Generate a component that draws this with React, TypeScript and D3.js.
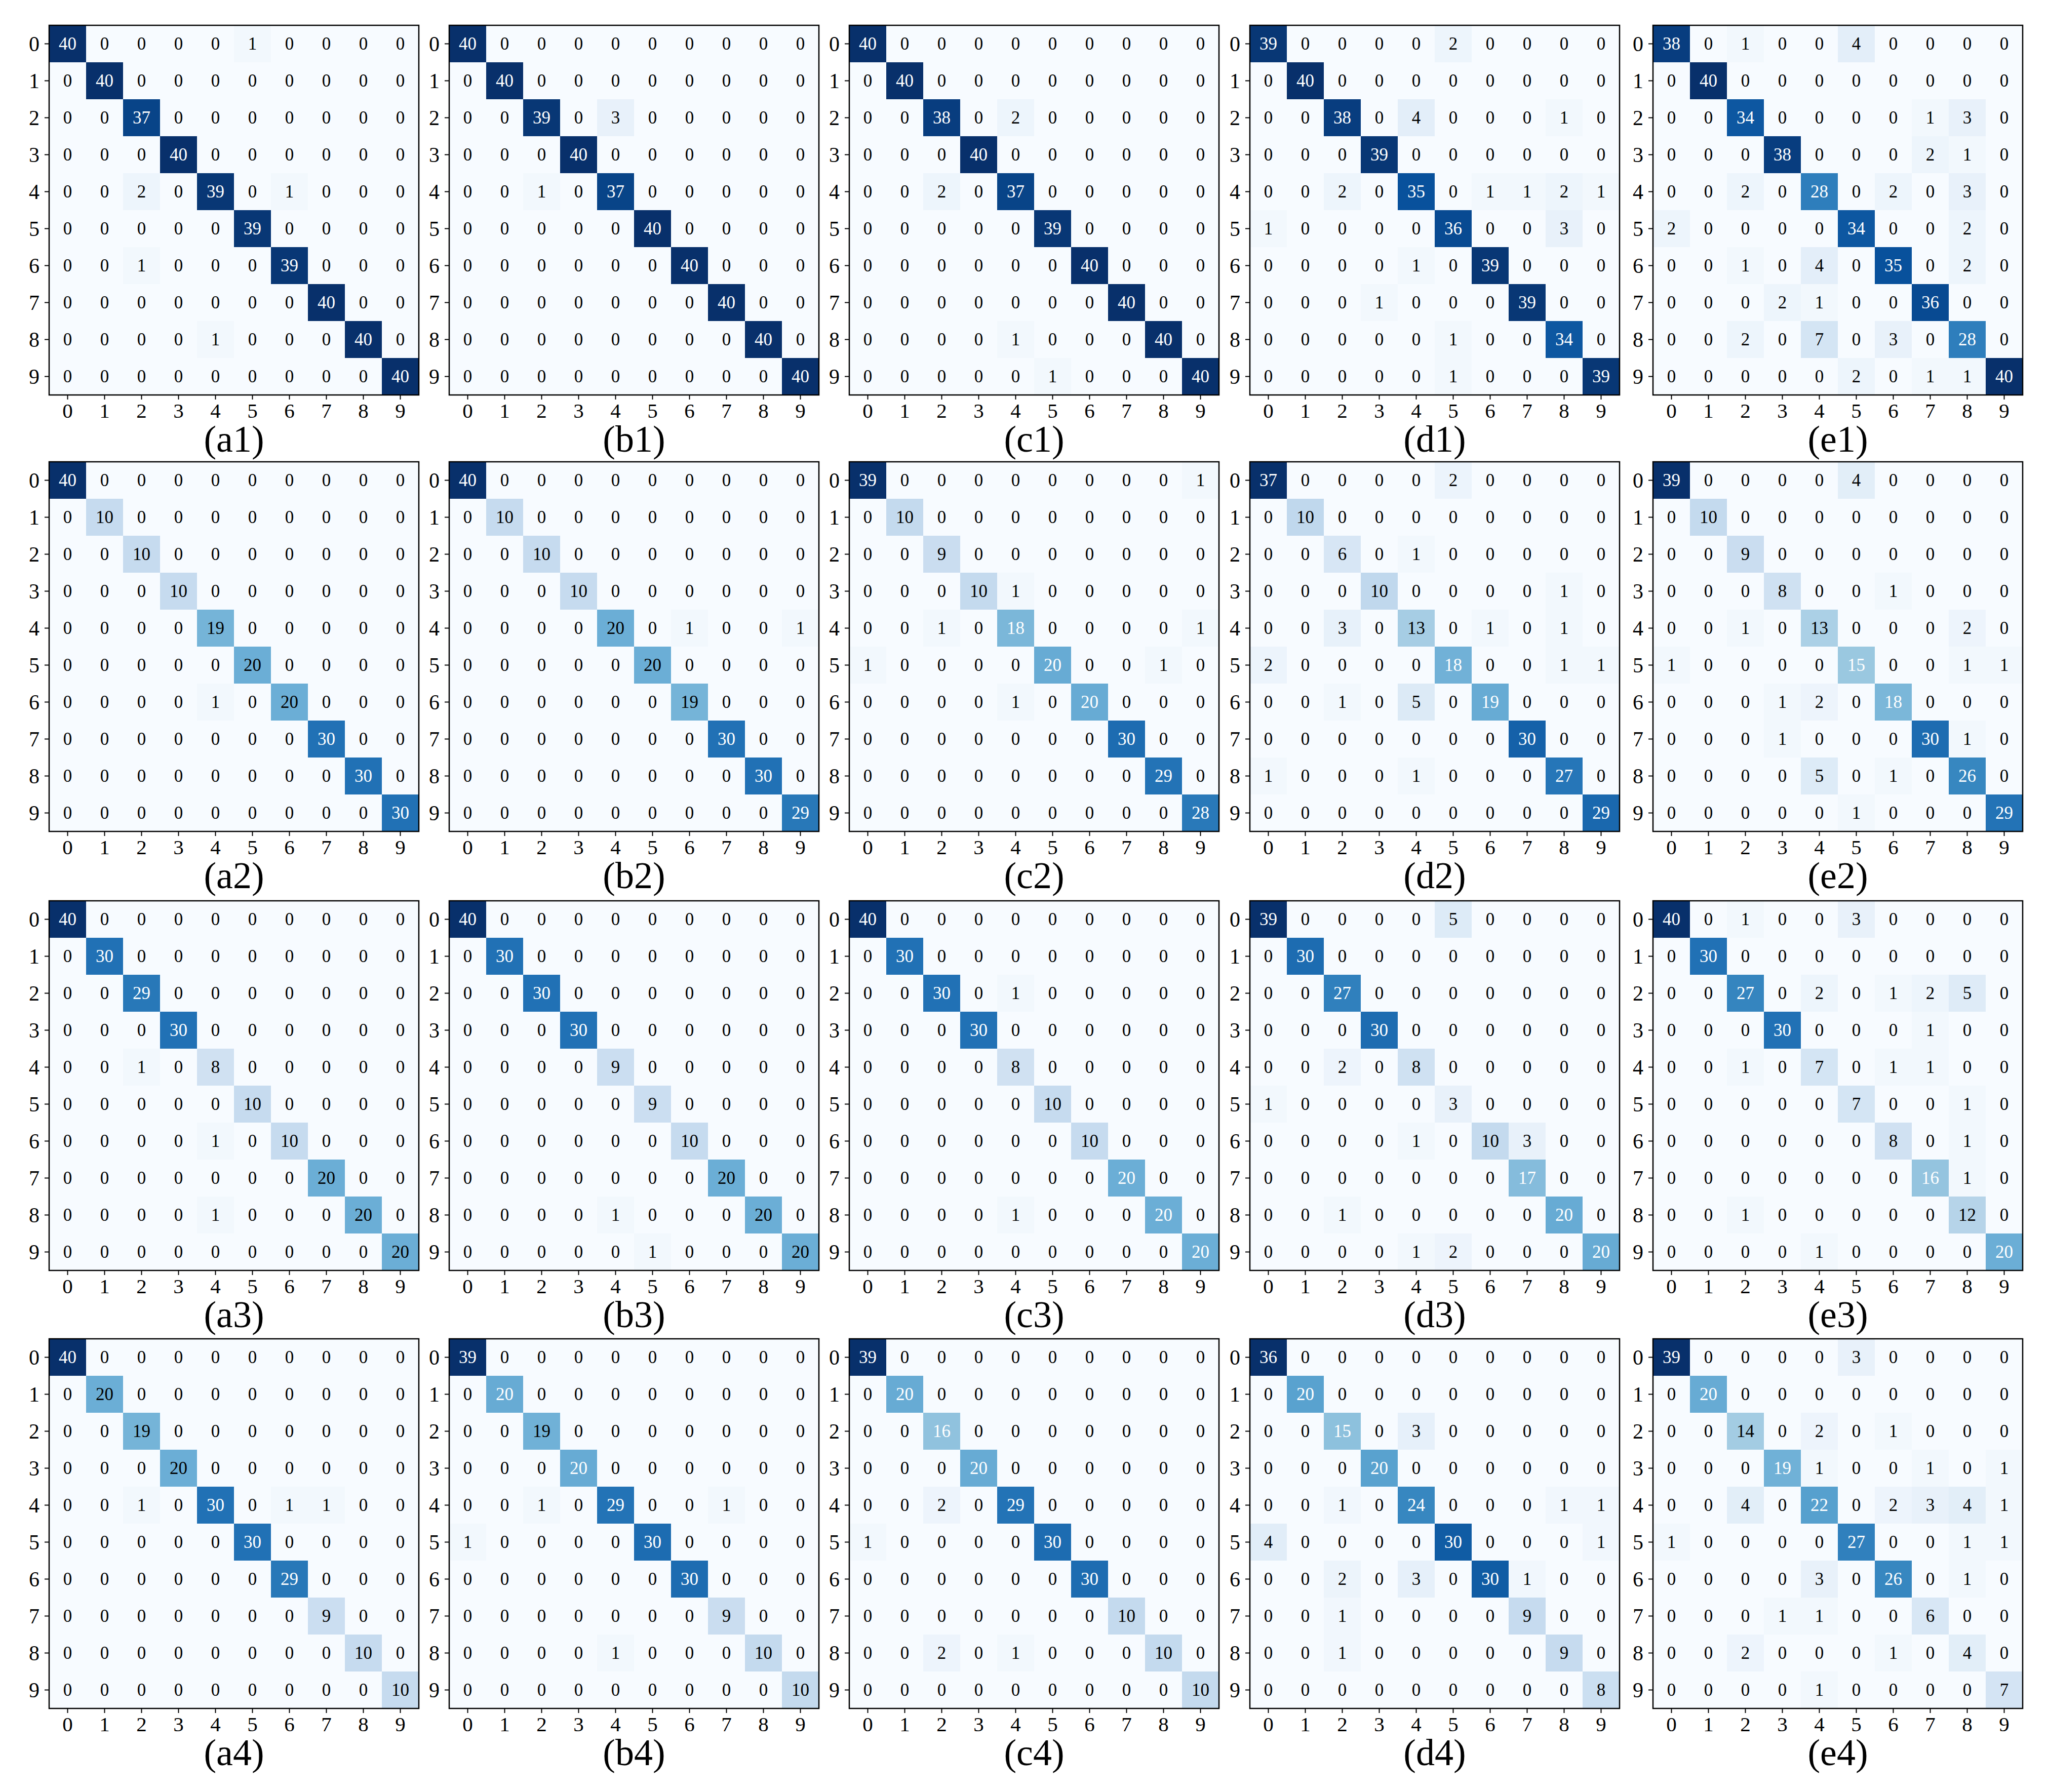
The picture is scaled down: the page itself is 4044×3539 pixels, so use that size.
import * as d3 from 'd3';

// confusion matrices, rows = true class, cols = predicted class
const a1 = [
  [40, 0, 0, 0, 0, 1, 0, 0, 0, 0],
  [0, 40, 0, 0, 0, 0, 0, 0, 0, 0],
  [0, 0, 37, 0, 0, 0, 0, 0, 0, 0],
  [0, 0, 0, 40, 0, 0, 0, 0, 0, 0],
  [0, 0, 2, 0, 39, 0, 1, 0, 0, 0],
  [0, 0, 0, 0, 0, 39, 0, 0, 0, 0],
  [0, 0, 1, 0, 0, 0, 39, 0, 0, 0],
  [0, 0, 0, 0, 0, 0, 0, 40, 0, 0],
  [0, 0, 0, 0, 1, 0, 0, 0, 40, 0],
  [0, 0, 0, 0, 0, 0, 0, 0, 0, 40],
];
const b1 = [
  [40, 0, 0, 0, 0, 0, 0, 0, 0, 0],
  [0, 40, 0, 0, 0, 0, 0, 0, 0, 0],
  [0, 0, 39, 0, 3, 0, 0, 0, 0, 0],
  [0, 0, 0, 40, 0, 0, 0, 0, 0, 0],
  [0, 0, 1, 0, 37, 0, 0, 0, 0, 0],
  [0, 0, 0, 0, 0, 40, 0, 0, 0, 0],
  [0, 0, 0, 0, 0, 0, 40, 0, 0, 0],
  [0, 0, 0, 0, 0, 0, 0, 40, 0, 0],
  [0, 0, 0, 0, 0, 0, 0, 0, 40, 0],
  [0, 0, 0, 0, 0, 0, 0, 0, 0, 40],
];
const c1 = [
  [40, 0, 0, 0, 0, 0, 0, 0, 0, 0],
  [0, 40, 0, 0, 0, 0, 0, 0, 0, 0],
  [0, 0, 38, 0, 2, 0, 0, 0, 0, 0],
  [0, 0, 0, 40, 0, 0, 0, 0, 0, 0],
  [0, 0, 2, 0, 37, 0, 0, 0, 0, 0],
  [0, 0, 0, 0, 0, 39, 0, 0, 0, 0],
  [0, 0, 0, 0, 0, 0, 40, 0, 0, 0],
  [0, 0, 0, 0, 0, 0, 0, 40, 0, 0],
  [0, 0, 0, 0, 1, 0, 0, 0, 40, 0],
  [0, 0, 0, 0, 0, 1, 0, 0, 0, 40],
];
const d1 = [
  [39, 0, 0, 0, 0, 2, 0, 0, 0, 0],
  [0, 40, 0, 0, 0, 0, 0, 0, 0, 0],
  [0, 0, 38, 0, 4, 0, 0, 0, 1, 0],
  [0, 0, 0, 39, 0, 0, 0, 0, 0, 0],
  [0, 0, 2, 0, 35, 0, 1, 1, 2, 1],
  [1, 0, 0, 0, 0, 36, 0, 0, 3, 0],
  [0, 0, 0, 0, 1, 0, 39, 0, 0, 0],
  [0, 0, 0, 1, 0, 0, 0, 39, 0, 0],
  [0, 0, 0, 0, 0, 1, 0, 0, 34, 0],
  [0, 0, 0, 0, 0, 1, 0, 0, 0, 39],
];
const e1 = [
  [38, 0, 1, 0, 0, 4, 0, 0, 0, 0],
  [0, 40, 0, 0, 0, 0, 0, 0, 0, 0],
  [0, 0, 34, 0, 0, 0, 0, 1, 3, 0],
  [0, 0, 0, 38, 0, 0, 0, 2, 1, 0],
  [0, 0, 2, 0, 28, 0, 2, 0, 3, 0],
  [2, 0, 0, 0, 0, 34, 0, 0, 2, 0],
  [0, 0, 1, 0, 4, 0, 35, 0, 2, 0],
  [0, 0, 0, 2, 1, 0, 0, 36, 0, 0],
  [0, 0, 2, 0, 7, 0, 3, 0, 28, 0],
  [0, 0, 0, 0, 0, 2, 0, 1, 1, 40],
];
const a2 = [
  [40, 0, 0, 0, 0, 0, 0, 0, 0, 0],
  [0, 10, 0, 0, 0, 0, 0, 0, 0, 0],
  [0, 0, 10, 0, 0, 0, 0, 0, 0, 0],
  [0, 0, 0, 10, 0, 0, 0, 0, 0, 0],
  [0, 0, 0, 0, 19, 0, 0, 0, 0, 0],
  [0, 0, 0, 0, 0, 20, 0, 0, 0, 0],
  [0, 0, 0, 0, 1, 0, 20, 0, 0, 0],
  [0, 0, 0, 0, 0, 0, 0, 30, 0, 0],
  [0, 0, 0, 0, 0, 0, 0, 0, 30, 0],
  [0, 0, 0, 0, 0, 0, 0, 0, 0, 30],
];
const b2 = [
  [40, 0, 0, 0, 0, 0, 0, 0, 0, 0],
  [0, 10, 0, 0, 0, 0, 0, 0, 0, 0],
  [0, 0, 10, 0, 0, 0, 0, 0, 0, 0],
  [0, 0, 0, 10, 0, 0, 0, 0, 0, 0],
  [0, 0, 0, 0, 20, 0, 1, 0, 0, 1],
  [0, 0, 0, 0, 0, 20, 0, 0, 0, 0],
  [0, 0, 0, 0, 0, 0, 19, 0, 0, 0],
  [0, 0, 0, 0, 0, 0, 0, 30, 0, 0],
  [0, 0, 0, 0, 0, 0, 0, 0, 30, 0],
  [0, 0, 0, 0, 0, 0, 0, 0, 0, 29],
];
const c2 = [
  [39, 0, 0, 0, 0, 0, 0, 0, 0, 1],
  [0, 10, 0, 0, 0, 0, 0, 0, 0, 0],
  [0, 0, 9, 0, 0, 0, 0, 0, 0, 0],
  [0, 0, 0, 10, 1, 0, 0, 0, 0, 0],
  [0, 0, 1, 0, 18, 0, 0, 0, 0, 1],
  [1, 0, 0, 0, 0, 20, 0, 0, 1, 0],
  [0, 0, 0, 0, 1, 0, 20, 0, 0, 0],
  [0, 0, 0, 0, 0, 0, 0, 30, 0, 0],
  [0, 0, 0, 0, 0, 0, 0, 0, 29, 0],
  [0, 0, 0, 0, 0, 0, 0, 0, 0, 28],
];
const d2 = [
  [37, 0, 0, 0, 0, 2, 0, 0, 0, 0],
  [0, 10, 0, 0, 0, 0, 0, 0, 0, 0],
  [0, 0, 6, 0, 1, 0, 0, 0, 0, 0],
  [0, 0, 0, 10, 0, 0, 0, 0, 1, 0],
  [0, 0, 3, 0, 13, 0, 1, 0, 1, 0],
  [2, 0, 0, 0, 0, 18, 0, 0, 1, 1],
  [0, 0, 1, 0, 5, 0, 19, 0, 0, 0],
  [0, 0, 0, 0, 0, 0, 0, 30, 0, 0],
  [1, 0, 0, 0, 1, 0, 0, 0, 27, 0],
  [0, 0, 0, 0, 0, 0, 0, 0, 0, 29],
];
const e2 = [
  [39, 0, 0, 0, 0, 4, 0, 0, 0, 0],
  [0, 10, 0, 0, 0, 0, 0, 0, 0, 0],
  [0, 0, 9, 0, 0, 0, 0, 0, 0, 0],
  [0, 0, 0, 8, 0, 0, 1, 0, 0, 0],
  [0, 0, 1, 0, 13, 0, 0, 0, 2, 0],
  [1, 0, 0, 0, 0, 15, 0, 0, 1, 1],
  [0, 0, 0, 1, 2, 0, 18, 0, 0, 0],
  [0, 0, 0, 1, 0, 0, 0, 30, 1, 0],
  [0, 0, 0, 0, 5, 0, 1, 0, 26, 0],
  [0, 0, 0, 0, 0, 1, 0, 0, 0, 29],
];
const a3 = [
  [40, 0, 0, 0, 0, 0, 0, 0, 0, 0],
  [0, 30, 0, 0, 0, 0, 0, 0, 0, 0],
  [0, 0, 29, 0, 0, 0, 0, 0, 0, 0],
  [0, 0, 0, 30, 0, 0, 0, 0, 0, 0],
  [0, 0, 1, 0, 8, 0, 0, 0, 0, 0],
  [0, 0, 0, 0, 0, 10, 0, 0, 0, 0],
  [0, 0, 0, 0, 1, 0, 10, 0, 0, 0],
  [0, 0, 0, 0, 0, 0, 0, 20, 0, 0],
  [0, 0, 0, 0, 1, 0, 0, 0, 20, 0],
  [0, 0, 0, 0, 0, 0, 0, 0, 0, 20],
];
const b3 = [
  [40, 0, 0, 0, 0, 0, 0, 0, 0, 0],
  [0, 30, 0, 0, 0, 0, 0, 0, 0, 0],
  [0, 0, 30, 0, 0, 0, 0, 0, 0, 0],
  [0, 0, 0, 30, 0, 0, 0, 0, 0, 0],
  [0, 0, 0, 0, 9, 0, 0, 0, 0, 0],
  [0, 0, 0, 0, 0, 9, 0, 0, 0, 0],
  [0, 0, 0, 0, 0, 0, 10, 0, 0, 0],
  [0, 0, 0, 0, 0, 0, 0, 20, 0, 0],
  [0, 0, 0, 0, 1, 0, 0, 0, 20, 0],
  [0, 0, 0, 0, 0, 1, 0, 0, 0, 20],
];
const c3 = [
  [40, 0, 0, 0, 0, 0, 0, 0, 0, 0],
  [0, 30, 0, 0, 0, 0, 0, 0, 0, 0],
  [0, 0, 30, 0, 1, 0, 0, 0, 0, 0],
  [0, 0, 0, 30, 0, 0, 0, 0, 0, 0],
  [0, 0, 0, 0, 8, 0, 0, 0, 0, 0],
  [0, 0, 0, 0, 0, 10, 0, 0, 0, 0],
  [0, 0, 0, 0, 0, 0, 10, 0, 0, 0],
  [0, 0, 0, 0, 0, 0, 0, 20, 0, 0],
  [0, 0, 0, 0, 1, 0, 0, 0, 20, 0],
  [0, 0, 0, 0, 0, 0, 0, 0, 0, 20],
];
const d3m = [
  [39, 0, 0, 0, 0, 5, 0, 0, 0, 0],
  [0, 30, 0, 0, 0, 0, 0, 0, 0, 0],
  [0, 0, 27, 0, 0, 0, 0, 0, 0, 0],
  [0, 0, 0, 30, 0, 0, 0, 0, 0, 0],
  [0, 0, 2, 0, 8, 0, 0, 0, 0, 0],
  [1, 0, 0, 0, 0, 3, 0, 0, 0, 0],
  [0, 0, 0, 0, 1, 0, 10, 3, 0, 0],
  [0, 0, 0, 0, 0, 0, 0, 17, 0, 0],
  [0, 0, 1, 0, 0, 0, 0, 0, 20, 0],
  [0, 0, 0, 0, 1, 2, 0, 0, 0, 20],
];
const e3 = [
  [40, 0, 1, 0, 0, 3, 0, 0, 0, 0],
  [0, 30, 0, 0, 0, 0, 0, 0, 0, 0],
  [0, 0, 27, 0, 2, 0, 1, 2, 5, 0],
  [0, 0, 0, 30, 0, 0, 0, 1, 0, 0],
  [0, 0, 1, 0, 7, 0, 1, 1, 0, 0],
  [0, 0, 0, 0, 0, 7, 0, 0, 1, 0],
  [0, 0, 0, 0, 0, 0, 8, 0, 1, 0],
  [0, 0, 0, 0, 0, 0, 0, 16, 1, 0],
  [0, 0, 1, 0, 0, 0, 0, 0, 12, 0],
  [0, 0, 0, 0, 1, 0, 0, 0, 0, 20],
];
const a4 = [
  [40, 0, 0, 0, 0, 0, 0, 0, 0, 0],
  [0, 20, 0, 0, 0, 0, 0, 0, 0, 0],
  [0, 0, 19, 0, 0, 0, 0, 0, 0, 0],
  [0, 0, 0, 20, 0, 0, 0, 0, 0, 0],
  [0, 0, 1, 0, 30, 0, 1, 1, 0, 0],
  [0, 0, 0, 0, 0, 30, 0, 0, 0, 0],
  [0, 0, 0, 0, 0, 0, 29, 0, 0, 0],
  [0, 0, 0, 0, 0, 0, 0, 9, 0, 0],
  [0, 0, 0, 0, 0, 0, 0, 0, 10, 0],
  [0, 0, 0, 0, 0, 0, 0, 0, 0, 10],
];
const b4 = [
  [39, 0, 0, 0, 0, 0, 0, 0, 0, 0],
  [0, 20, 0, 0, 0, 0, 0, 0, 0, 0],
  [0, 0, 19, 0, 0, 0, 0, 0, 0, 0],
  [0, 0, 0, 20, 0, 0, 0, 0, 0, 0],
  [0, 0, 1, 0, 29, 0, 0, 1, 0, 0],
  [1, 0, 0, 0, 0, 30, 0, 0, 0, 0],
  [0, 0, 0, 0, 0, 0, 30, 0, 0, 0],
  [0, 0, 0, 0, 0, 0, 0, 9, 0, 0],
  [0, 0, 0, 0, 1, 0, 0, 0, 10, 0],
  [0, 0, 0, 0, 0, 0, 0, 0, 0, 10],
];
const c4 = [
  [39, 0, 0, 0, 0, 0, 0, 0, 0, 0],
  [0, 20, 0, 0, 0, 0, 0, 0, 0, 0],
  [0, 0, 16, 0, 0, 0, 0, 0, 0, 0],
  [0, 0, 0, 20, 0, 0, 0, 0, 0, 0],
  [0, 0, 2, 0, 29, 0, 0, 0, 0, 0],
  [1, 0, 0, 0, 0, 30, 0, 0, 0, 0],
  [0, 0, 0, 0, 0, 0, 30, 0, 0, 0],
  [0, 0, 0, 0, 0, 0, 0, 10, 0, 0],
  [0, 0, 2, 0, 1, 0, 0, 0, 10, 0],
  [0, 0, 0, 0, 0, 0, 0, 0, 0, 10],
];
const d4 = [
  [36, 0, 0, 0, 0, 0, 0, 0, 0, 0],
  [0, 20, 0, 0, 0, 0, 0, 0, 0, 0],
  [0, 0, 15, 0, 3, 0, 0, 0, 0, 0],
  [0, 0, 0, 20, 0, 0, 0, 0, 0, 0],
  [0, 0, 1, 0, 24, 0, 0, 0, 1, 1],
  [4, 0, 0, 0, 0, 30, 0, 0, 0, 1],
  [0, 0, 2, 0, 3, 0, 30, 1, 0, 0],
  [0, 0, 1, 0, 0, 0, 0, 9, 0, 0],
  [0, 0, 1, 0, 0, 0, 0, 0, 9, 0],
  [0, 0, 0, 0, 0, 0, 0, 0, 0, 8],
];
const e4 = [
  [39, 0, 0, 0, 0, 3, 0, 0, 0, 0],
  [0, 20, 0, 0, 0, 0, 0, 0, 0, 0],
  [0, 0, 14, 0, 2, 0, 1, 0, 0, 0],
  [0, 0, 0, 19, 1, 0, 0, 1, 0, 1],
  [0, 0, 4, 0, 22, 0, 2, 3, 4, 1],
  [1, 0, 0, 0, 0, 27, 0, 0, 1, 1],
  [0, 0, 0, 0, 3, 0, 26, 0, 1, 0],
  [0, 0, 0, 1, 1, 0, 0, 6, 0, 0],
  [0, 0, 2, 0, 0, 0, 1, 0, 4, 0],
  [0, 0, 0, 0, 1, 0, 0, 0, 0, 7],
];

const classLabels = ['0', '1', '2', '3', '4', '5', '6', '7', '8', '9'];
const columnNames = ['a', 'b', 'c', 'd', 'e'];
const gridRows = [
  [a1, b1, c1, d1, e1],
  [a2, b2, c2, d2, e2],
  [a3, b3, c3, d3m, e3],
  [a4, b4, c4, d4, e4],
];

// matplotlib "Blues"
const BLUES = ['#f7fbff', '#deebf7', '#c6dbef', '#9ecae1', '#6baed6', '#4292c6', '#2171b5', '#08519c', '#08306b'];
const blues = d3
  .scaleLinear<string>()
  .domain(d3.range(9).map((i) => i / 8))
  .range(BLUES)
  .interpolate(d3.interpolateRgb)
  .clamp(true);

const W = 4044;
const H = 3539;
const SIZE = 730;
const colX = [97, 887, 1677, 2468, 3264];
const rowY = [50, 912, 1779, 2644];
const FONT = '"Liberation Serif", "Times New Roman", serif';

const Matrix = ({ data, x0, y0, label, thresh }) => {
  const band = d3.scaleBand().domain(classLabels).range([0, SIZE]);
  const bw = band.bandwidth();
  const vmax = d3.max(data.flat());
  const norm = d3.scaleLinear().domain([0, vmax]).range([0, 1]);

  return (
    <g transform={`translate(${x0},${y0})`}>
      {data.map((row, i) =>
        row.map((v, j) => (
          <rect
            key={`c${i}-${j}`}
            x={band(classLabels[j])}
            y={band(classLabels[i])}
            width={bw + 0.5}
            height={bw + 0.5}
            fill={blues(norm(v))}
          />
        ))
      )}
      {data.map((row, i) =>
        row.map((v, j) => (
          <text
            key={`t${i}-${j}`}
            x={band(classLabels[j]) + bw / 2}
            y={band(classLabels[i]) + bw / 2}
            dy="0.34em"
            textAnchor="middle"
            fontSize={35}
            fill={v / vmax > thresh ? '#ffffff' : '#000000'}
          >
            {v}
          </text>
        ))
      )}
      <rect x={0} y={0} width={SIZE} height={SIZE} fill="none" stroke="#000" strokeWidth={2.5} />
      {classLabels.map((c) => (
        <g key={`y${c}`}>
          <line x1={-9} x2={0} y1={band(c) + bw / 2} y2={band(c) + bw / 2} stroke="#000" strokeWidth={2} />
          <text x={-19} y={band(c) + bw / 2} dy="0.34em" textAnchor="end" fontSize={42}>
            {c}
          </text>
        </g>
      ))}
      {classLabels.map((c) => (
        <g key={`x${c}`}>
          <line x1={band(c) + bw / 2} x2={band(c) + bw / 2} y1={SIZE} y2={SIZE + 9} stroke="#000" strokeWidth={2} />
          <text x={band(c) + bw / 2} y={SIZE + 45} textAnchor="middle" fontSize={41}>
            {c}
          </text>
        </g>
      ))}
      <text x={SIZE / 2} y={SIZE + 112} textAnchor="middle" fontSize={74}>
        ({label})
      </text>
    </g>
  );
};

export default function App() {
  return (
    <svg
      width={W}
      height={H}
      viewBox={`0 0 ${W} ${H}`}
      style={{ position: 'absolute', left: 0, top: 0, background: '#fff' }}
      fontFamily={FONT}
    >
      <rect width={W} height={H} fill="#fff" />
      {gridRows.map((row, r) =>
        row.map((m, c) => (
          <Matrix
            key={`${r}-${c}`}
            data={m}
            x0={colX[c]}
            y0={rowY[r]}
            label={`${columnNames[c]}${r + 1}`}
            thresh={c < 2 ? 0.5 : 0.37}
          />
        ))
      )}
    </svg>
  );
}
